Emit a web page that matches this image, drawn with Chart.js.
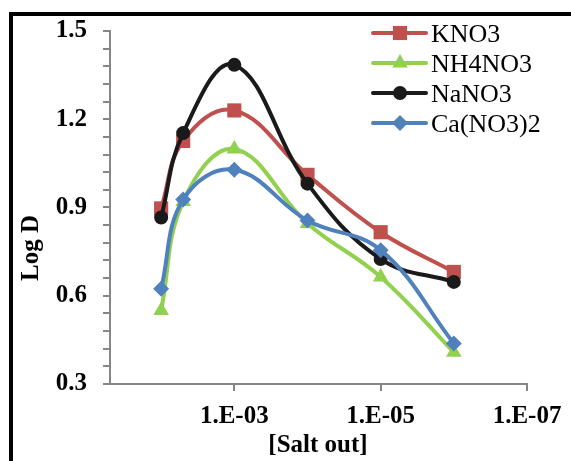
<!DOCTYPE html>
<html>
<head>
<meta charset="utf-8">
<script src="https://cdn.jsdelivr.net/npm/chart.js@4.4.1/dist/chart.umd.min.js"></script>
<style>
  html, body { margin: 0; padding: 0; background: #fff; }
  #wrap { width: 571px; height: 461px; position: relative; overflow: hidden; }
  #legend { position: absolute; left: 431px; top: 19px; margin: 0; padding: 0; list-style: none;
            font-family: 'Liberation Serif', 'Times New Roman', serif; font-size: 26px; color: #000; }
  #legend li { height: 30px; line-height: 30px; white-space: nowrap; }
</style>
</head>
<body>
<div id="wrap"><canvas id="chart" width="571" height="461"></canvas><ul id="legend"></ul></div>
<script>
// salt concentration (x) and Log D per salt
const saltConc = [1e-2, 5e-3, 1e-3, 1e-4, 1e-5, 1e-6];
const kno3    = [0.897, 1.126, 1.230, 1.011, 0.816, 0.681];
const nh4no3  = [0.550, 0.920, 1.099, 0.846, 0.664, 0.408];
const nano3   = [0.866, 1.153, 1.385, 0.981, 0.725, 0.647];
const cano32  = [0.624, 0.927, 1.028, 0.856, 0.755, 0.438];
const xTicks  = [1e-7, 1e-5, 1e-3];

const FONT = "'Liberation Serif', 'Times New Roman', serif";

function pts(vals) {
    return vals.map((v, i) => ({ x: saltConc[i], y: v }));
}

function series(label, vals, color, style, radius, order) {
    return {
        label: label,
        data: pts(vals),
        borderColor: color,
        backgroundColor: color,
        pointBackgroundColor: color,
        pointBorderColor: color,
        pointBorderWidth: 0,
        pointStyle: style,
        pointRadius: radius,
        borderWidth: 4,
        tension: 0.4,
        order: order
    };
}

const datasets = [
    series('KNO3', kno3, '#C0504D', 'rect', 10, 4),
    series('NH4NO3', nh4no3, '#92D050', 'triangle', 9, 3),
    series('NaNO3', nano3, '#1A1A1A', 'circle', 7, 2),
    series('Ca(NO3)2', cano32, '#4F81BD', 'rectRot', 8, 1)
];

// frame, axis titles and legend symbols
const extras = {
    id: 'extras',
    afterDraw(chart) {
        const ctx = chart.ctx;
        ctx.save();
        ctx.fillStyle = '#000';
        ctx.fillRect(9, 12, 4, 461);
        ctx.fillRect(9, 12, 571, 4);

        ctx.font = 'bold 25px ' + FONT;
        ctx.textAlign = 'center';
        ctx.textBaseline = 'middle';
        ctx.fillText('[Salt out]', 318, 446);
        ctx.save();
        ctx.translate(32, 248);
        ctx.rotate(-Math.PI / 2);
        ctx.fillText('Log D', 0, 0);
        ctx.restore();

        chart.data.datasets.forEach((ds, row) => {
            const y = 33 + row * 30;
            ctx.strokeStyle = ds.borderColor;
            ctx.lineWidth = 4;
            ctx.lineCap = 'round';
            ctx.beginPath();
            ctx.moveTo(373, y);
            ctx.lineTo(426, y);
            ctx.stroke();
            ctx.fillStyle = ds.borderColor;
            Chart.helpers.drawPoint(ctx, {
                pointStyle: ds.pointStyle,
                radius: ds.pointRadius,
                borderWidth: 0
            }, 400, y);
        });
        ctx.restore();
    }
};

const legend = document.getElementById('legend');
datasets.forEach(ds => {
    const li = document.createElement('li');
    li.textContent = ds.label;
    legend.appendChild(li);
});

new Chart(document.getElementById('chart'), {
    type: 'line',
    data: { datasets: datasets },
    options: {
        responsive: false,
        animation: false,
        layout: { padding: { left: 0, right: 44, top: 28, bottom: 0 } },
        plugins: {
            legend: { display: false },
            tooltip: { enabled: false }
        },
        scales: {
            x: {
                type: 'logarithmic',
                reverse: true,
                min: 1e-7,
                max: 0.05,
                afterBuildTicks: (scale) => {
                    scale.ticks = xTicks.map(v => ({ value: v }));
                },
                afterFit: (scale) => { scale.height = 77; },
                grid: {
                    drawOnChartArea: false,
                    tickLength: 7,
                    color: '#868686',
                    lineWidth: 2
                },
                border: { color: '#868686', width: 2 },
                ticks: {
                    autoSkip: false,
                    maxRotation: 0,
                    padding: 11,
                    color: '#000',
                    font: { family: FONT, size: 25, weight: 'bold' },
                    callback: (v) => '1.E-' + String(Math.round(-Math.log10(v))).padStart(2, '0')
                }
            },
            y: {
                min: 0.3,
                max: 1.5,
                afterFit: (scale) => { scale.width = 110; },
                grid: {
                    drawOnChartArea: false,
                    tickLength: 7,
                    color: '#868686',
                    lineWidth: 2
                },
                border: { color: '#868686', width: 2 },
                ticks: {
                    stepSize: 0.06,
                    autoSkip: false,
                    padding: 16,
                    color: '#000',
                    font: { family: FONT, size: 25, weight: 'bold' },
                    callback: (v) => {
                        const k = v / 0.3;
                        return Math.abs(k - Math.round(k)) < 1e-6 ? v.toFixed(1) : '';
                    }
                }
            }
        }
    },
    plugins: [extras]
});
</script>
</body>
</html>
